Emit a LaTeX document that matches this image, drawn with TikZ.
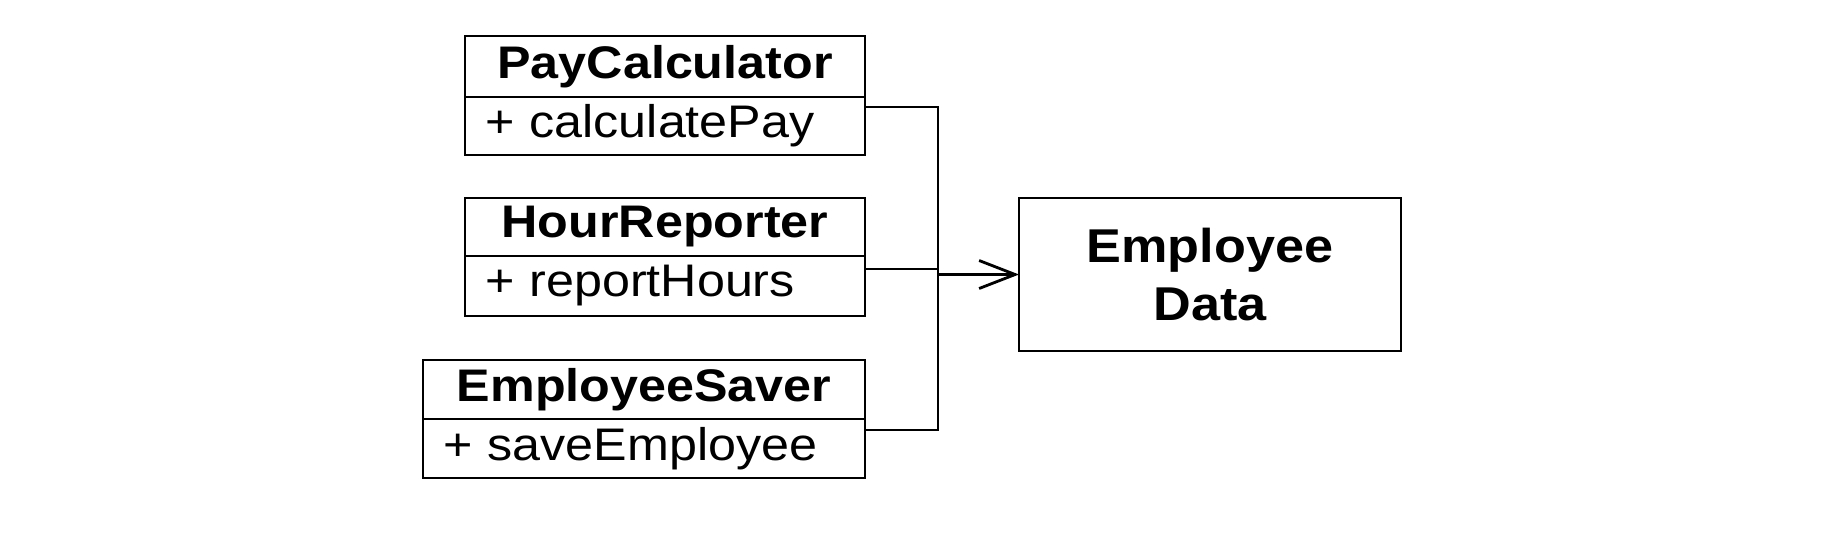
\documentclass[tikz,border=0pt]{standalone}
\usepackage{fontspec}
\setmainfont{Liberation Sans}[FakeStretch=1.1]
\usepackage{tikz}
\usetikzlibrary{arrows.meta,positioning}
\tikzstyle{classname} = [draw, line width=0.8pt, outer sep=0pt, minimum width=4cm,
  minimum height=0.6cm, inner xsep=0.2cm, inner ysep=0pt, align=center,
  font=\fontsize{13}{16.5}\selectfont\bfseries]
\tikzstyle{classop} = [draw, line width=0.8pt, outer sep=0pt, minimum height=0.59cm,
  inner xsep=0.2cm, inner ysep=0pt, text width=3.6cm, align=left,
  font=\fontsize{13}{16.5}\selectfont]
\tikzstyle{arrow} = [line width=0.8pt, -{Straight Barb[length=3.6mm, width=2.8mm]}]

\begin{document}
\begin{tikzpicture}
  \useasboundingbox (0,0) rectangle (18.22,-5.36);

  % First class
  \node [classname, minimum height=0.61cm] (pcname) at (6.65,-0.665) {PayCalculator};
  \node [classop, minimum height=0.58cm, below=0pt of pcname] (pcop) {+ calculatePay};

  % Second class placed below the first one
  \node [classname, minimum height=0.58cm, below=4.3mm of pcop] (hrname) {HourReporter};
  \node [classop, minimum height=0.6cm, below=0pt of hrname] (hrop) {+ reportHours};

  % Third class, wider, right edges aligned
  \node [classname, minimum width=4.42cm, minimum height=0.59cm,
         below=4.4mm of hrop.south east, anchor=north east] (esname) {EmployeeSaver};
  \node [classop, text width=4.02cm, below=0pt of esname] (esop) {+ saveEmployee};

  % Data box
  \node [draw, line width=0.8pt, outer sep=0pt, minimum width=3.82cm, minimum height=1.53cm,
         align=center, font=\fontsize{13.5}{16.5}\selectfont\bfseries] (data) at (12.10,-2.745)
  {Employee\\Data};

  % Connectors
  \draw [line width=0.8pt] ([yshift=-1mm]pcop.north east) -- ++(0.73,0) coordinate (bus)
        |- ([yshift=-1.1mm]esop.north east);
  \draw [line width=0.8pt] ([yshift=-1.3mm]hrop.north east) coordinate (hrout) -- (hrout -| bus);
  \draw [arrow] (bus |- data.west) -- (data.west);
\end{tikzpicture}
\end{document}
